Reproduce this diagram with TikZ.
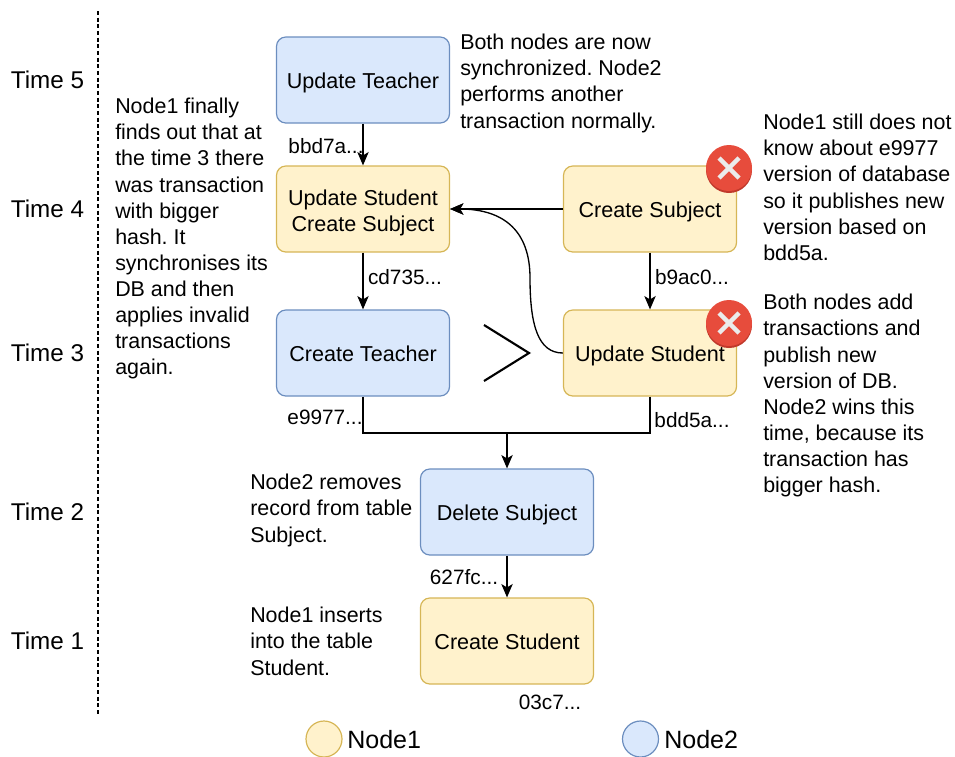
\documentclass[tikz,border=0pt]{standalone}
\usepackage{fontspec}
\setmainfont{Liberation Sans}
\usetikzlibrary{arrows.meta}
\definecolor{nodeoneFill}{HTML}{FFF2CC}
\definecolor{nodeoneLine}{HTML}{D6B656}
\definecolor{nodetwoFill}{HTML}{DAE8FC}
\definecolor{nodetwoLine}{HTML}{6C8EBF}
\definecolor{rejectFill}{HTML}{E74C3C}
\definecolor{rejectEdge}{HTML}{C0392B}
\tikzset{
  pix/.style={x=0.0264cm,y=-0.0264cm},
  nodeone/.style={draw=nodeoneLine,fill=nodeoneFill,line width=0.9pt,rounded corners=7pt,minimum width=173*0.0264cm,minimum height=86*0.0264cm,align=center,font=\fontsize{16.2}{19.6}\selectfont,inner sep=0pt,text depth=0pt,text height=13pt},
  nodetwo/.style={nodeone,draw=nodetwoLine,fill=nodetwoFill},
  legendone/.style={draw=nodeoneLine,fill=nodeoneFill,line width=0.9pt,circle,minimum size=36*0.0264cm,inner sep=0pt},
  legendtwo/.style={draw=nodetwoLine,fill=nodetwoFill,line width=0.9pt,circle,minimum size=36*0.0264cm,inner sep=0pt},
  note/.style={align=left,anchor=north west,inner sep=0pt,font=\fontsize{16.1}{19.6}\selectfont},
  hash/.style={inner sep=0pt,font=\fontsize{15.6}{18}\selectfont},
  timelabel/.style={inner sep=0pt,font=\fontsize{18.2}{20}\selectfont},
  legendlabel/.style={inner sep=0pt,anchor=west,font=\fontsize{18.8}{22}\selectfont},
  link/.style={-{Stealth[length=10pt,width=8.5pt,inset=2.5pt]},line width=1pt},
  reject/.style={circle,fill=rejectFill,inner sep=0pt,minimum size=46*0.0264cm},
  rejectback/.style={circle,fill=rejectEdge,inner sep=0pt,minimum size=46*0.0264cm},
  rejectcross/.style={white!92!black,line width=3.4pt},
}
\begin{document}
\begin{tikzpicture}[pix]
    \frenchspacing
    \useasboundingbox (0,0) rectangle (955,756);
    % Time axis
    \coordinate (axistop) at (98,11);
    \coordinate (axisbottom) at (98,714);
    \draw[densely dashed,line width=0.8pt] (axistop) -- (axisbottom);
    \node[timelabel] (time5) at (47.5,80) {Time 5};
    \node[timelabel] (time4) at (47.5,209) {Time 4};
    \node[timelabel] (time3) at (47.5,353) {Time 3};
    \node[timelabel] (time2) at (47.5,512) {Time 2};
    \node[timelabel] (time1) at (47.5,641) {Time 1};

    % Transactions
    \node[nodetwo] (teacherup) at (363,80) {Update Teacher};
    \node[nodeone,text height=34.5pt] (merged) at (363,209) {Update Student\\Create Subject};
    \node[nodeone] (subject) at (650,209) {Create Subject};
    \node[nodetwo] (teacher) at (363,353) {Create Teacher};
    \node[nodeone] (student) at (650,353) {Update Student};
    \node[nodetwo] (delete) at (507,512) {Delete Subject};
    \node[nodeone] (create) at (507,641) {Create Student};

    % Rejected marks
    \node[rejectback] (backsubject) at (729,170) {};
    \node[reject] (rejectsubject) at (729,168) {};
    \node[rejectback] (backstudent) at (729,325) {};
    \node[reject] (rejectstudent) at (729,323) {};
    \draw[rejectcross] (rejectsubject.center) ++(-10,-10) -- ++(20,20) ++(-20,0) -- ++(20,-20);
    \draw[rejectcross] (rejectstudent.center) ++(-10,-10) -- ++(20,20) ++(-20,0) -- ++(20,-20);

    % Greater sign
    \coordinate (gttop) at (484,325);
    \coordinate (gttip) at (529,353);
    \coordinate (gtbottom) at (484,381);
    \draw[line width=1.6pt] (gttop) -- (gttip) -- (gtbottom);

    % Arrows
    \draw[link] (teacherup) -- (merged);
    \draw[link] (merged) -- (teacher);
    \draw[link] (subject) -- (student);
    \draw[link] (subject) -- (merged);
    \coordinate (bend) at (530,278);
    \draw[link] (student.west) .. controls (538,353) and (530,325) .. (bend) .. controls (530,232) and (505,209) .. (merged.east);
    \coordinate (joint) at (507,433);
    \draw[line width=1pt] (teacher.south) |- (joint);
    \draw[line width=1pt] (student.south) |- (joint);
    \draw[link] (joint) -- (delete);
    \draw[link] (delete) -- (create);

    % Hashes
    \node[hash] (hashbbd) at (326,146) {bbd7a...};
    \node[hash] (hashcd) at (405,277) {cd735...};
    \node[hash] (hashb9) at (692,277) {b9ac0...};
    \node[hash] (hashe9) at (325,417) {e9977...};
    \node[hash] (hashbdd) at (692,420) {bdd5a...};
    \node[hash] (hash627) at (464,577) {627fc...};
    \node[hash] (hash03) at (550,702) {03c7...};

    % Notes
    \node[note] (notetop) at (460,34) {Both nodes are now\\synchronized. Node2\\performs another\\transaction normally.};
    \node[note] (noteleft) at (115,98) {Node1 finally\\finds out that at\\the time 3 there\\was transaction\\with bigger\\hash. It\\synchronises its\\DB and then\\applies invalid\\transactions\\again.};
    \node[note] (noteright) at (763,114) {Node1 still does not\\know about e9977\\version of database\\so it publishes new\\version based on\\bdd5a.};
    \node[note] (notemid) at (763,294) {Both nodes add\\transactions and\\publish new\\version of DB.\\Node2 wins this\\time, because its\\transaction has\\bigger hash.};
    \node[note] (notetwo) at (250,474) {Node2 removes\\record from table\\Subject.};
    \node[note] (noteone) at (250,607) {Node1 inserts\\into the table\\Student.};

    % Legend
    \node[legendone] (keyone) at (324,739) {};
    \node[legendlabel] (keyonelabel) at (347,740) {Node1};
    \node[legendtwo] (keytwo) at (640.5,739) {};
    \node[legendlabel] (keytwolabel) at (664,740) {Node2};
\end{tikzpicture}
\end{document}
